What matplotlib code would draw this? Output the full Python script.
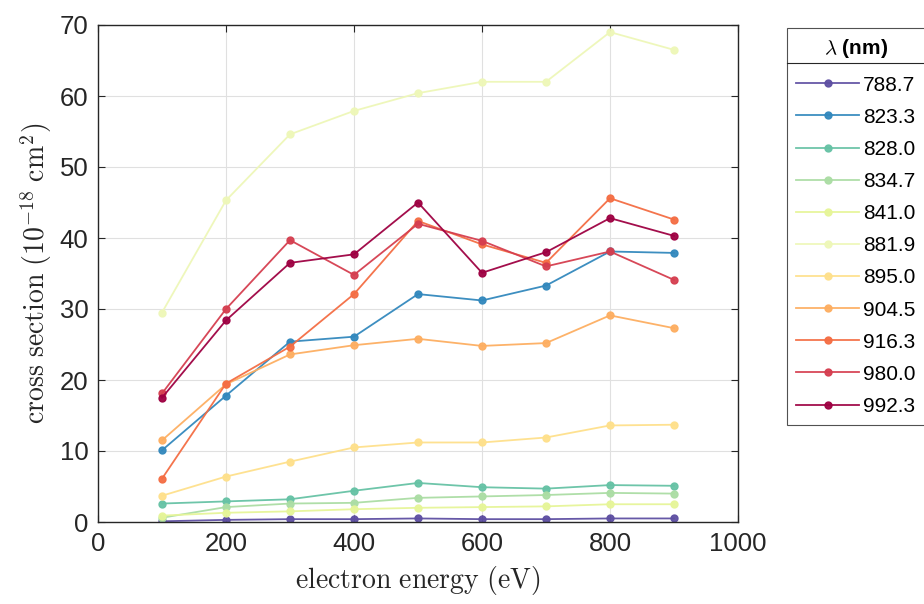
import matplotlib
matplotlib.use("Agg")
import matplotlib.pyplot as plt
from matplotlib.lines import Line2D

plt.rcParams['mathtext.fontset'] = 'cm'
plt.rcParams['font.family'] = ['Liberation Sans', 'DejaVu Sans']

energy = [100, 200, 300, 400, 500, 600, 700, 800, 900]

wavelengths = ['788.7', '823.3', '828.0', '834.7', '841.0', '881.9',
               '895.0', '904.5', '916.3', '980.0', '992.3']

cs_788_7 = [0.1, 0.3, 0.4, 0.4, 0.5, 0.4, 0.4, 0.5, 0.5]
cs_823_3 = [10.1, 17.8, 25.4, 26.1, 32.1, 31.2, 33.3, 38.1, 37.9]
cs_828_0 = [2.6, 2.9, 3.2, 4.4, 5.5, 4.9, 4.7, 5.2, 5.1]
cs_834_7 = [0.6, 2.1, 2.6, 2.7, 3.4, 3.6, 3.8, 4.1, 4.0]
cs_841_0 = [0.9, 1.3, 1.5, 1.8, 2.0, 2.1, 2.2, 2.5, 2.5]
cs_881_9 = [29.5, 45.3, 54.6, 57.9, 60.4, 62.0, 62.0, 69.0, 66.5]
cs_895_0 = [3.7, 6.4, 8.5, 10.5, 11.2, 11.2, 11.9, 13.6, 13.7]
cs_904_5 = [11.5, 19.4, 23.6, 24.9, 25.8, 24.8, 25.2, 29.1, 27.3]
cs_916_3 = [6.1, 19.5, 24.7, 32.1, 42.4, 39.1, 36.5, 45.6, 42.6]
cs_980_0 = [18.1, 30.0, 39.7, 34.8, 42.0, 39.6, 36.0, 38.1, 34.1]
cs_992_3 = [17.5, 28.4, 36.5, 37.7, 45.0, 35.1, 38.0, 42.8, 40.3]

series = [cs_788_7, cs_823_3, cs_828_0, cs_834_7, cs_841_0, cs_881_9,
          cs_895_0, cs_904_5, cs_916_3, cs_980_0, cs_992_3]

colors = ['#5e4fa2', '#3288bd', '#66c2a5', '#abdda4', '#e6f598', '#eef7b8',
          '#fee08b', '#fdae61', '#f46d43', '#d53e4f', '#9e0142']

fig = plt.figure(figsize=(9.24, 6.04), dpi=100)
ax = fig.add_axes([98 / 924, 1 - 522 / 604, 640 / 924, 497 / 604])

for lab, ys, c in zip(wavelengths, series, colors):
    ax.plot(energy, ys, '-', color=c, marker='o', markersize=5,
            linewidth=1.3, label=lab, alpha=0.95)

ax.set_xlim(0, 1000)
ax.set_ylim(0, 70)
ax.set_xticks(range(0, 1001, 200))
ax.set_yticks(range(0, 71, 10))
ax.grid(True, color='#e0e0e0', linewidth=0.8)
ax.set_axisbelow(True)
ax.tick_params(direction='in', top=True, right=True, labelsize=18.5,
               length=5, width=0.8, colors='#262626', pad=7)
for s in ax.spines.values():
    s.set_color('#262626')
    s.set_linewidth(1.0)

ax.set_xlabel(r'$\mathrm{electron\ energy\ (eV)}$', fontsize=20,
              color='#262626', labelpad=6)
ax.set_ylabel(r'$\mathrm{cross\ section\ (10^{-18}\ cm^2)}$', fontsize=20,
              color='#262626', labelpad=4)

leg = ax.legend(loc='upper left', bbox_to_anchor=(787 / 924, 1 - 28 / 604),
                bbox_transform=fig.transFigure, fontsize=15,
                title=r'$\lambda$ (nm)',
                title_fontproperties={'size': 15, 'weight': 'bold'},
                frameon=True, fancybox=False, edgecolor='#262626',
                handlelength=3.0, handletextpad=0.2, borderpad=0.45,
                labelspacing=0.63, borderaxespad=0)
leg.get_frame().set_linewidth(0.8)
leg._legend_box.sep = 11

# separator under the legend title
fig.add_artist(Line2D([787 / 924, 1.0], [1 - 63 / 604, 1 - 63 / 604],
                      transform=fig.transFigure, color='#262626',
                      linewidth=0.8))

fig.savefig('out.png', dpi=100)
